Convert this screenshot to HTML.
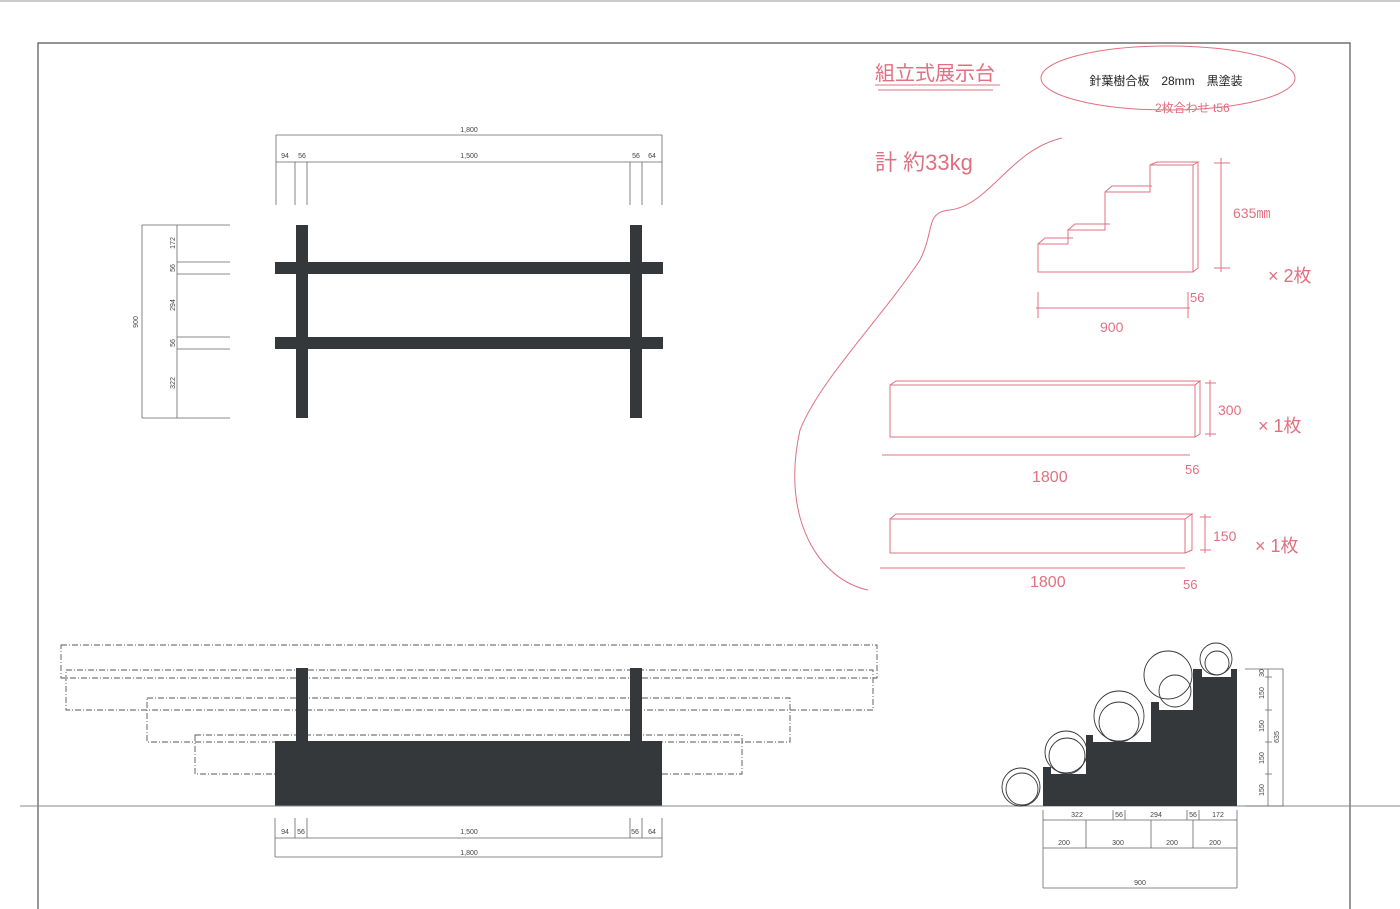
<!DOCTYPE html>
<html><head><meta charset="utf-8"><style>
html,body{margin:0;padding:0;background:#fff;}
svg{display:block}
text{font-family:"Liberation Sans","Noto Sans CJK JP",sans-serif;}
</style></head><body>
<svg width="1400" height="909" viewBox="0 0 1400 909" xmlns="http://www.w3.org/2000/svg">
<rect width="1400" height="909" fill="#fff"/>
<!-- frame -->
<line x1="0" y1="1" x2="1400" y2="1" stroke="#999" stroke-width="1"/>
<path d="M38,909 V43 H1350 V909" fill="none" stroke="#555" stroke-width="1.2"/>

<!-- plan view -->
<g stroke="#666" stroke-width="0.8" fill="none">
<line x1="276" y1="135" x2="276" y2="205"/><line x1="662" y1="135" x2="662" y2="205"/>
<line x1="276" y1="135" x2="662" y2="135"/><line x1="276" y1="162" x2="662" y2="162"/>
<line x1="295" y1="162" x2="295" y2="205"/><line x1="307" y1="162" x2="307" y2="205"/>
<line x1="630" y1="162" x2="630" y2="205"/><line x1="642" y1="162" x2="642" y2="205"/>
<path d="M142,225 V418 M142,225 H230 M142,418 H230 M177,225 V418 M177,262 H230 M177,274 H230 M177,337 H230 M177,349 H230"/>
</g>
<g font-size="7" fill="#444" text-anchor="middle">
<text x="469" y="132">1,800</text><text x="469" y="158">1,500</text>
<text x="285" y="158">94</text><text x="302" y="158">56</text>
<text x="636" y="158">56</text><text x="652" y="158">64</text>
<text transform="translate(177,243) rotate(-90)" y="-2">172</text>
<text transform="translate(177,268) rotate(-90)" y="-2">56</text>
<text transform="translate(177,305) rotate(-90)" y="-2">294</text>
<text transform="translate(177,343) rotate(-90)" y="-2">56</text>
<text transform="translate(177,383) rotate(-90)" y="-2">322</text>
<text transform="translate(140,322) rotate(-90)" y="-2">900</text>
</g>
<g fill="#35383b">
<rect x="296" y="225" width="12" height="193"/><rect x="630" y="225" width="12" height="193"/>
<rect x="275" y="262" width="388" height="12"/><rect x="275" y="337" width="388" height="12"/>
</g>

<!-- front elevation -->
<g fill="none" stroke="#555" stroke-width="0.9" stroke-dasharray="6,2,1,2">
<rect x="61" y="645" width="816" height="33"/>
<rect x="66" y="670" width="807" height="40"/>
<rect x="147" y="698" width="643" height="44"/>
<rect x="195" y="735" width="547" height="39"/>
</g>
<g fill="#35383b">
<rect x="275" y="741" width="387" height="65"/>
<rect x="296" y="668" width="12" height="75"/><rect x="630" y="668" width="12" height="75"/>
</g>
<line x1="20" y1="806" x2="1400" y2="806" stroke="#888" stroke-width="1"/>
<g stroke="#666" stroke-width="0.8" fill="none">
<path d="M275,818 V857 M662,818 V857 M275,838 H662 M275,857 H662 M295,818 V838 M307,818 V838 M630,818 V838 M642,818 V838"/>
</g>
<g font-size="7" fill="#444" text-anchor="middle">
<text x="285" y="834">94</text><text x="301" y="834">56</text><text x="469" y="834">1,500</text>
<text x="635" y="834">56</text><text x="652" y="834">64</text><text x="469" y="855">1,800</text>
</g>

<!-- side elevation -->
<path d="M1043,806 L1043,767 L1051,767 L1051,774 L1086,774 L1086,735 L1093,735 L1093,742 L1151,742 L1151,702 L1159,702 L1159,710 L1193,710 L1193,669 L1202,669 L1202,677 L1231,677 L1231,669 L1237,669 L1237,806 Z" fill="#35383b"/>
<g fill="none" stroke="#333" stroke-width="0.9">
<circle cx="1021" cy="787" r="19"/><circle cx="1022" cy="789" r="16"/>
<circle cx="1066" cy="752" r="21"/><circle cx="1067" cy="756" r="18"/>
<circle cx="1119" cy="716" r="25"/><circle cx="1119" cy="722" r="20"/>
<circle cx="1168" cy="675" r="24"/><circle cx="1175" cy="691" r="16"/>
<circle cx="1216" cy="659" r="16"/><circle cx="1217" cy="663" r="12"/>
</g>
<g stroke="#666" stroke-width="0.8" fill="none">
<path d="M1043,810 V888 M1237,810 V888 M1043,820 H1237 M1043,848 H1237 M1043,888 H1237 M1113,810 V820 M1125,810 V820 M1187,810 V820 M1199,810 V820 M1086,820 V848 M1151,820 V848 M1193,820 V848"/>
<path d="M1245,669 H1283 V806 H1245 M1268,669 V806 M1265,677 H1272 M1265,710 H1272 M1265,742 H1272 M1265,774 H1272"/>
</g>
<g font-size="7" fill="#444" text-anchor="middle">
<text x="1077" y="817">322</text><text x="1119" y="817">56</text><text x="1156" y="817">294</text>
<text x="1193" y="817">56</text><text x="1218" y="817">172</text>
<text x="1064" y="845">200</text><text x="1118" y="845">300</text><text x="1172" y="845">200</text><text x="1215" y="845">200</text>
<text x="1140" y="885">900</text>
<text transform="translate(1265,673) rotate(-90)" y="-1">30</text>
<text transform="translate(1265,693) rotate(-90)" y="-1">150</text>
<text transform="translate(1265,726) rotate(-90)" y="-1">150</text>
<text transform="translate(1265,758) rotate(-90)" y="-1">150</text>
<text transform="translate(1265,790) rotate(-90)" y="-1">150</text>
<text transform="translate(1280,737) rotate(-90)" y="-1">635</text>
</g>

<!-- red handwritten notes -->
<g fill="none" stroke="#e07080" stroke-width="1">
<ellipse cx="1168" cy="78" rx="127" ry="32"/>
<path d="M875,85 H1000 M878,90 H993"/>
<path d="M1062,138 C1010,150 990,205 950,210 C925,212 935,230 920,260 C880,320 820,380 800,430 C780,520 820,580 868,590"/>
<!-- stair sketch -->
<path d="M1038,272 V244 H1068 V230 H1105 V192 H1150 V165 H1193 V272 Z M1038,244 L1045,238 H1073 M1068,230 L1075,224 H1110 M1105,192 L1112,186 H1152 M1150,165 L1157,162 H1198 L1193,165 M1198,162 V268 L1193,272"/>
<path d="M1221,158 V272 M1214,163 H1230 M1214,268 H1230 M1036,308 H1190 M1038,292 V318 M1188,292 V318"/>
<!-- board 1 -->
<path d="M890,385 H1195 V437 H890 Z M890,385 L896,381 H1200 L1195,385 M1200,381 V434 L1195,437 M882,455 H1190 M1210,380 V437 M1205,383 H1216 M1205,434 H1216"/>
<!-- board 2 -->
<path d="M890,519 H1185 V553 H890 Z M890,519 L896,514 H1192 L1185,519 M1192,514 V550 L1185,553 M880,568 H1185 M1205,514 V553 M1200,517 H1211 M1200,550 H1211"/>
</g>
<g fill="#e07080" font-family="'Liberation Sans','Noto Sans CJK JP',sans-serif">
<text x="875" y="80" font-size="20">組立式展示台</text>
<text x="875" y="170" font-size="22">計 約33kg</text>
<text x="1155" y="112" font-size="12">2枚合わせ t56</text>
<text x="1233" y="218" font-size="14">635㎜</text>
<text x="1268" y="282" font-size="18">× 2枚</text>
<text x="1190" y="302" font-size="13">56</text>
<text x="1100" y="332" font-size="14">900</text>
<text x="1218" y="415" font-size="14">300</text>
<text x="1258" y="432" font-size="18">× 1枚</text>
<text x="1185" y="474" font-size="13">56</text>
<text x="1032" y="482" font-size="16">1800</text>
<text x="1213" y="541" font-size="14">150</text>
<text x="1255" y="552" font-size="18">× 1枚</text>
<text x="1183" y="589" font-size="13">56</text>
<text x="1030" y="587" font-size="16">1800</text>
</g>
<text x="1166" y="85" font-size="12" fill="#222" text-anchor="middle" font-family="'Liberation Sans','Noto Sans CJK JP',sans-serif">針葉樹合板　28mm　黒塗装</text>
</svg>
</body></html>
